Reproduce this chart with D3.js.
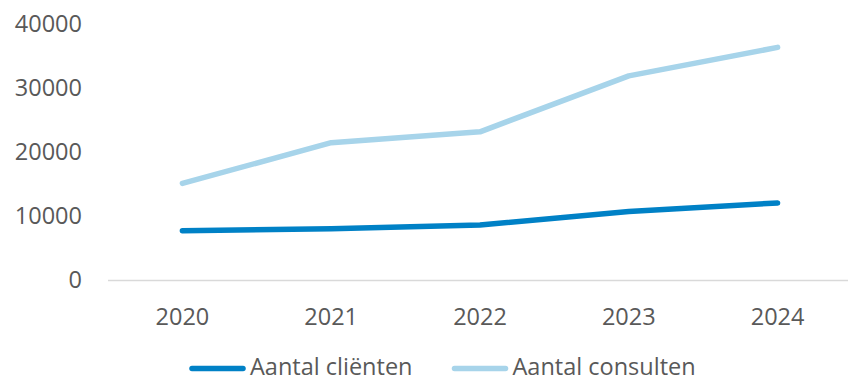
<!DOCTYPE html>
<html>
<head>
<meta charset="utf-8">
<script src="https://cdn.jsdelivr.net/npm/d3@7"></script>
<style>
  html, body { margin: 0; padding: 0; background: #fff; }
  svg { display: block; font-family: "Open Sans", sans-serif; }
</style>
</head>
<body>
<svg id="chart" width="848" height="381"></svg>
<script>
// Jaren en reeksen
const years = ["2020", "2021", "2022", "2023", "2024"];
const clienten = [7700, 8000, 8600, 10700, 12050];
const consulten = [15100, 21450, 23150, 31900, 36350];
const yTicks = [0, 10000, 20000, 30000, 40000];
const seriesNames = ["Aantal cliënten", "Aantal consulten"];
const seriesColors = ["#0081C6", "#A7D4EA"];

const svg = d3.select("#chart");
const textColor = "#595959";

const x = d3.scaleBand().domain(years).range([108, 852]);
const y = d3.scaleLinear().domain([0, 40000]).range([280, 24]);

// Y-as labels (geen lijn)
svg.append("g")
  .selectAll("text")
  .data(yTicks)
  .join("text")
  .attr("x", 82)
  .attr("y", d => y(d))
  .attr("dy", "0.36em")
  .attr("text-anchor", "end")
  .attr("fill", textColor)
  .style("font-size", "23.5px")
  .text(d => d);

// X-as lijn
svg.append("line")
  .attr("x1", x.range()[0]).attr("x2", 848)
  .attr("y1", y(0) + 0.5).attr("y2", y(0) + 0.5)
  .attr("stroke", "#D9D9D9")
  .attr("stroke-width", 1.5);

// X-as labels
svg.append("g")
  .selectAll("text")
  .data(years)
  .join("text")
  .attr("x", d => x(d) + x.bandwidth() / 2)
  .attr("y", 324.5)
  .attr("text-anchor", "middle")
  .attr("fill", textColor)
  .style("font-size", "23.5px")
  .text(d => d);

// Lijnen (consulten onder, cliënten boven)
const line = d3.line()
  .x((d, i) => x(years[i]) + x.bandwidth() / 2)
  .y(d => y(d));

[[consulten, seriesColors[1]], [clienten, seriesColors[0]]].forEach(([vals, color]) => {
  svg.append("path")
    .datum(vals)
    .attr("d", line)
    .attr("fill", "none")
    .attr("stroke", color)
    .attr("stroke-width", 5.5)
    .attr("stroke-linecap", "round")
    .attr("stroke-linejoin", "round");
});

// Legenda
const legendItems = [
  { name: seriesNames[0], color: seriesColors[0], x0: 192 },
  { name: seriesNames[1], color: seriesColors[1], x0: 454.5 }
];
const lg = svg.append("g");
legendItems.forEach(it => {
  lg.append("line")
    .attr("x1", it.x0).attr("x2", it.x0 + 51)
    .attr("y1", 368.5).attr("y2", 368.5)
    .attr("stroke", it.color)
    .attr("stroke-width", 5.5)
    .attr("stroke-linecap", "round");
  lg.append("text")
    .attr("x", it.x0 + 58)
    .attr("y", 374.5)
    .attr("fill", textColor)
    .style("font-size", "23.5px")
    .text(it.name);
});
</script>
</body>
</html>
